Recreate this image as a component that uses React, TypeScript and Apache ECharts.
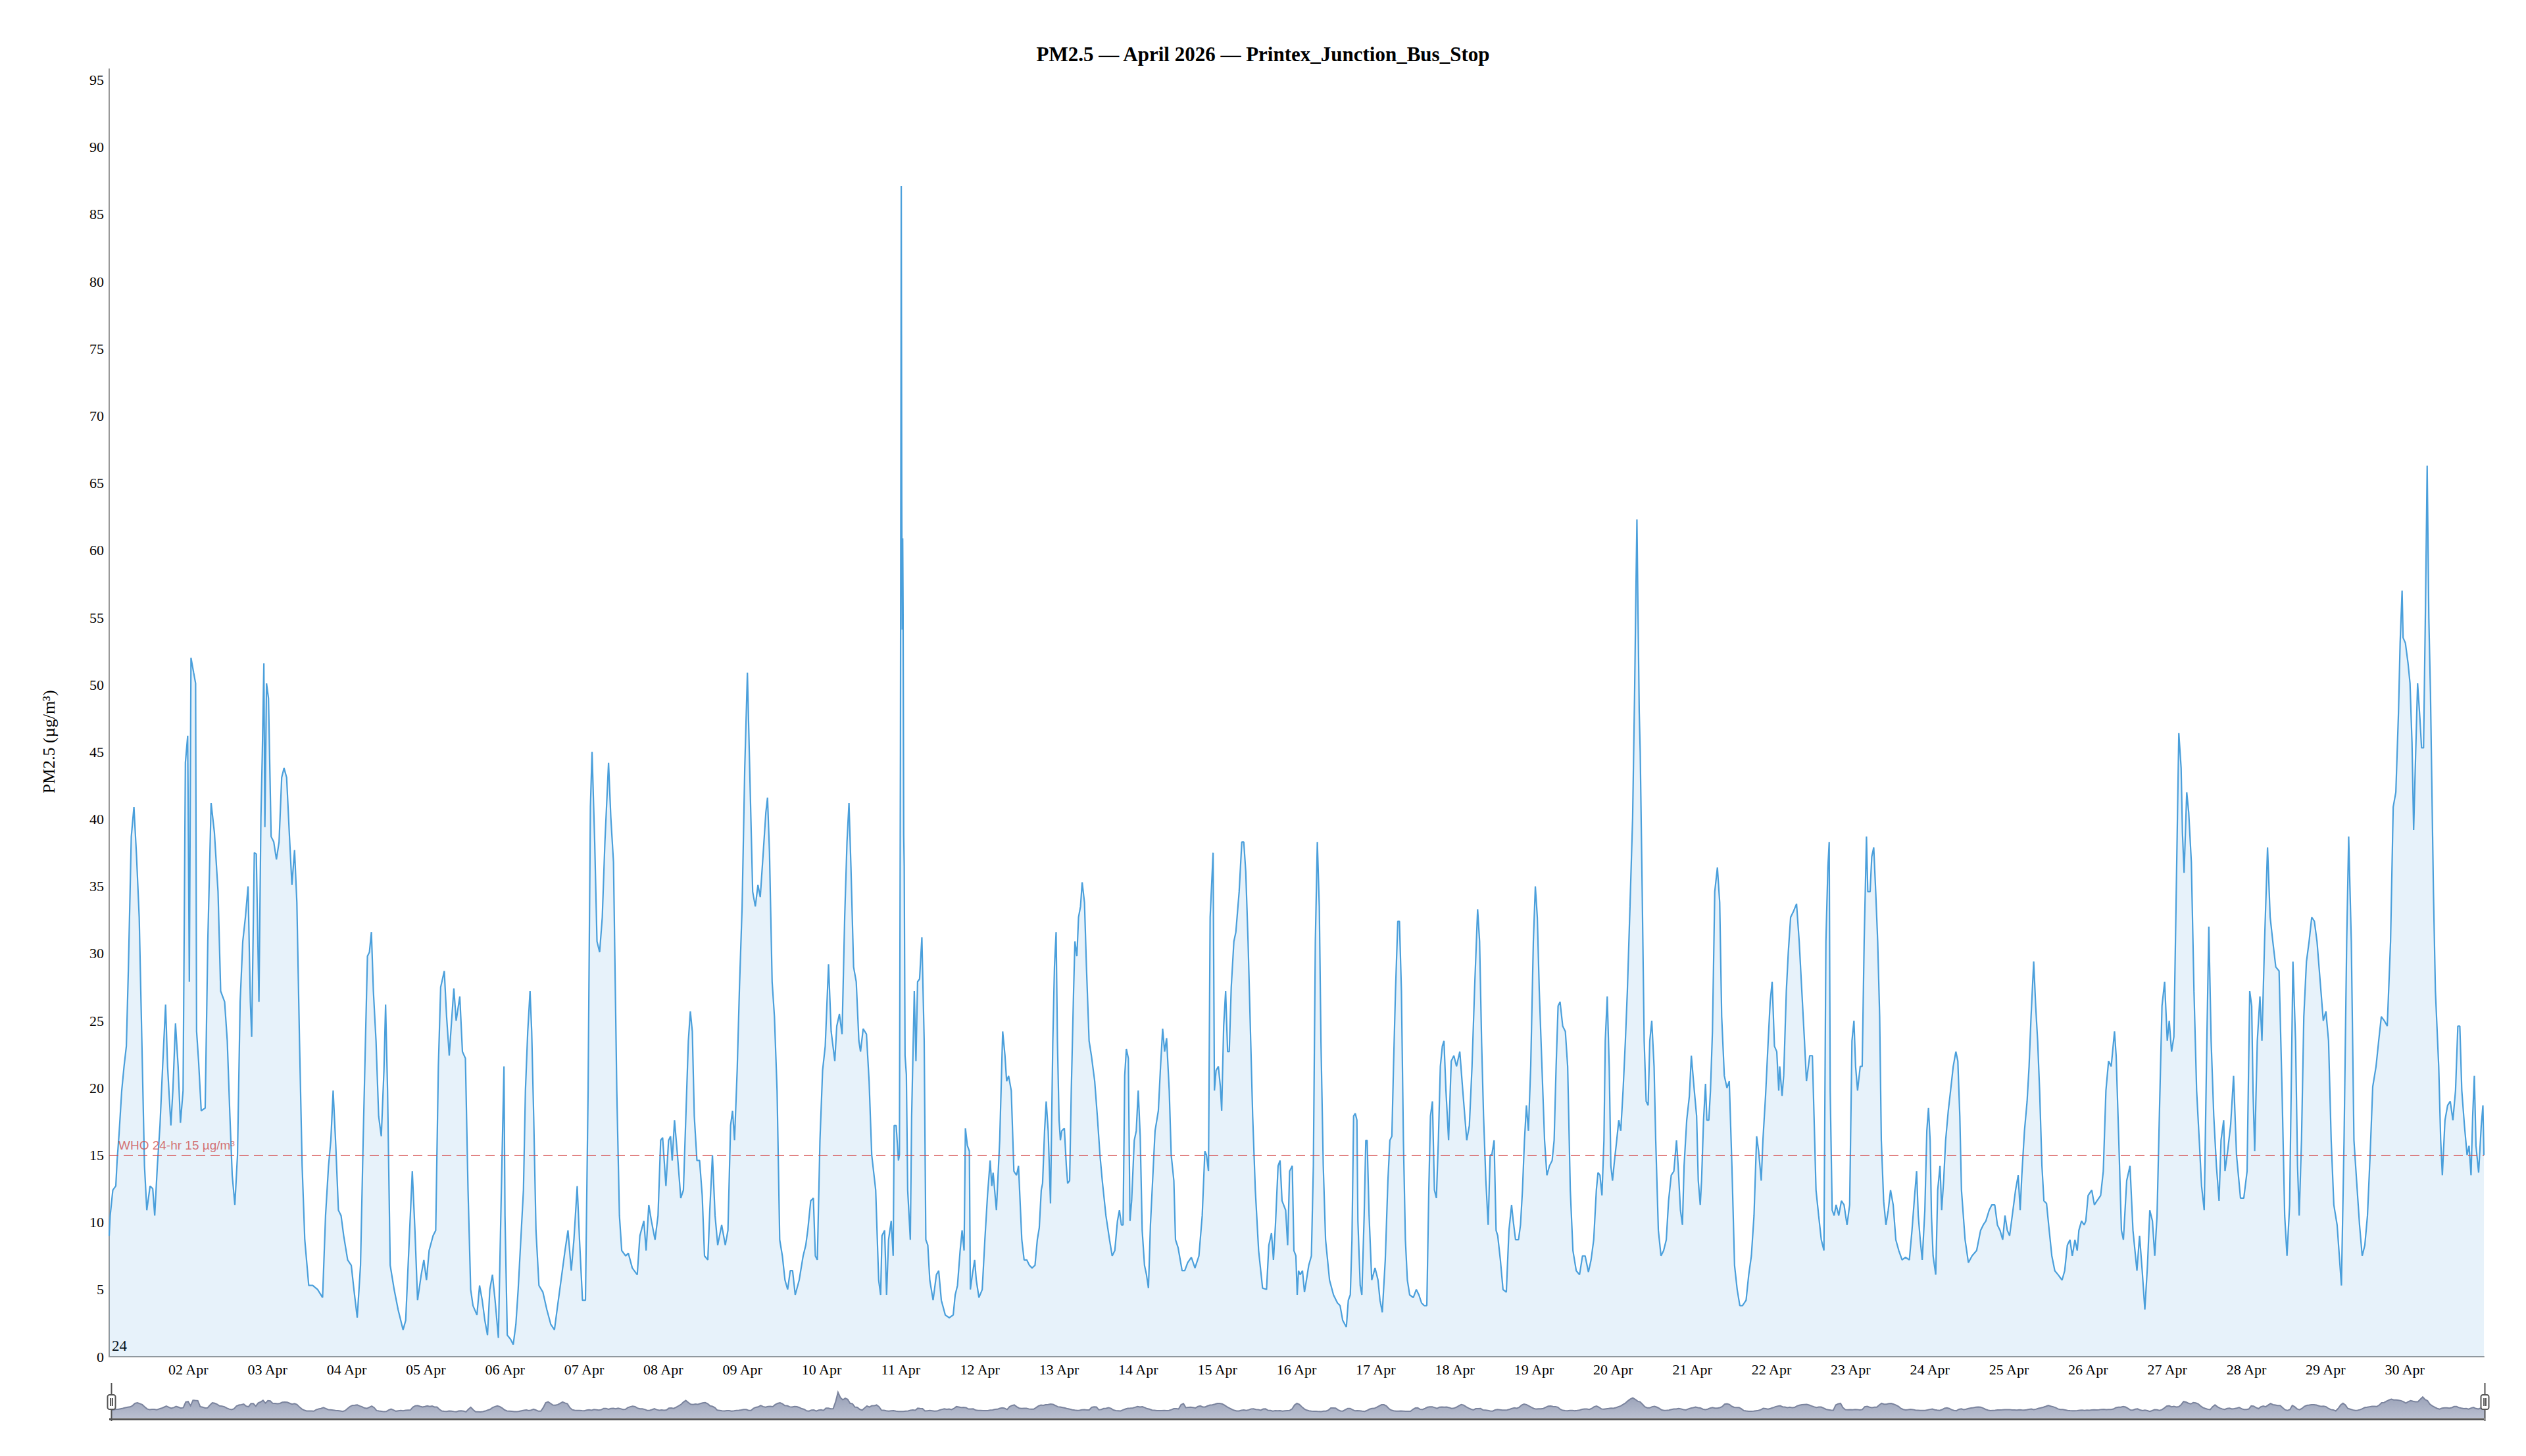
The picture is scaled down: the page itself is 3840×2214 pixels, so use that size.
import React, { useEffect, useRef } from "react";
import * as echarts from "echarts";

// ---------- DATA (hours from the start of each 5-day block, PM2.5 µg/m³) ----------
const MONTH_START = Date.UTC(2026, 3, 1);
const HOUR_MS = 3600000;
const BLOCK_HOURS = 120;

const apr01to05: [number, number][] = [
  [0, 9.0], [0.3, 10.5], [1.1, 12.4], [2.0, 12.7], [2.4, 14.6], [3.0, 16.6], [3.8, 19.8], [4.5, 21.6], [5.2, 23.1], [5.8, 28.7],
  [6.7, 38.7], [7.5, 40.9], [8.3, 37.2], [9.1, 32.7], [9.9, 23.5], [10.7, 14.2], [11.4, 10.9], [12.4, 12.7], [13.2, 12.5], [13.8, 10.5],
  [14.6, 14.2], [15.4, 17.2], [16.2, 21.6], [17.1, 26.2], [17.7, 21.6], [18.7, 17.2], [19.3, 19.8], [20.1, 24.8], [20.9, 21.6], [21.6, 17.4],
  [22.4, 19.8], [23.1, 44.2], [23.8, 46.2], [24.3, 27.9], [24.8, 52.0], [25.6, 50.9], [26.2, 50.1], [26.5, 24.2], [27.1, 22.0], [27.9, 18.3],
  [29.1, 18.5], [29.9, 30.9], [30.9, 41.2], [31.9, 39.0], [33.0, 34.6], [33.8, 27.2], [35.0, 26.4], [35.8, 23.5], [36.6, 17.9], [37.3, 13.5],
  [38.1, 11.3], [38.9, 15.0], [39.7, 26.4], [40.5, 30.9], [41.3, 32.7], [42.1, 35.0], [42.8, 26.4], [43.2, 23.8], [44.0, 37.5], [44.6, 37.4],
  [45.4, 26.4], [46.0, 40.1], [46.4, 44.6], [46.9, 51.6], [47.2, 39.4], [47.7, 50.1], [48.3, 49.0], [49.1, 38.7], [49.9, 38.3], [50.7, 37.0],
  [51.5, 38.3], [52.3, 43.1], [53.0, 43.8], [53.8, 43.1], [54.6, 39.0], [55.4, 35.1], [56.2, 37.7], [56.9, 33.8], [57.7, 23.5], [58.5, 14.2],
  [59.3, 8.7], [60.5, 5.3], [61.7, 5.3], [63.2, 5.0], [64.7, 4.4], [65.6, 10.5], [66.5, 14.2], [67.2, 16.1], [67.9, 19.8], [68.7, 15.7],
  [69.5, 10.9], [70.3, 10.5], [71.1, 9.0], [72.3, 7.2], [73.4, 6.8], [74.2, 5.0], [75.2, 2.9], [76.2, 6.8], [77.0, 16.1], [77.8, 24.6],
  [78.3, 29.8], [78.9, 30.1], [79.5, 31.6], [80.1, 27.2], [80.9, 23.5], [81.7, 17.9], [82.5, 16.4], [83.3, 21.3], [83.8, 26.2], [84.4, 19.8],
  [85.2, 6.8], [86.4, 5.0], [87.6, 3.5], [89.1, 2.0], [89.9, 2.7], [91.1, 9.4], [91.9, 13.8], [92.7, 9.4], [93.5, 4.2], [94.6, 6.1],
  [95.4, 7.2], [96.2, 5.7], [97.0, 7.9], [98.2, 9.0], [99.0, 9.4], [99.8, 21.6], [100.5, 27.5], [101.6, 28.7], [102.3, 25.3], [103.1, 22.4],
  [103.7, 24.6], [104.5, 27.4], [105.2, 25.0], [106.3, 26.8], [107.1, 22.7], [108.0, 22.2], [108.8, 12.4], [109.6, 5.0], [110.3, 3.8], [111.5, 3.1],
  [112.3, 5.3], [113.1, 4.2], [113.9, 2.7], [114.7, 1.6], [115.4, 5.0], [116.2, 6.1], [117.0, 4.2], [118.0, 1.4], [118.9, 12.4], [119.7, 21.6],
];

const apr06to10: [number, number][] = [
  [0, 10.5], [0.7, 1.6], [1.7, 1.3], [2.5, 0.9], [3.3, 2.4], [4.0, 5.0], [4.8, 8.7], [5.6, 12.4], [6.2, 19.8], [6.9, 24.2],
  [7.6, 27.2], [8.1, 24.2], [8.7, 17.9], [9.4, 9.4], [10.3, 5.3], [11.5, 4.8], [12.7, 3.5], [13.9, 2.4], [15.0, 2.0], [15.8, 3.5],
  [17.0, 5.7], [18.2, 7.9], [19.1, 9.4], [20.1, 6.4], [20.9, 8.7], [21.9, 12.7], [22.6, 8.7], [23.5, 4.2], [24.4, 4.2], [25.2, 19.8],
  [25.9, 40.9], [26.4, 45.0], [27.2, 38.3], [27.9, 30.9], [28.7, 30.1], [29.5, 32.7], [30.3, 38.3], [31.4, 44.2], [32.1, 40.1], [32.9, 36.8],
  [33.9, 19.8], [34.7, 10.5], [35.4, 7.9], [36.6, 7.5], [37.4, 7.7], [38.6, 6.6], [40.1, 6.1], [40.9, 9.0], [42.1, 10.1], [42.8, 7.9],
  [43.6, 11.3], [44.4, 10.1], [45.5, 8.7], [46.4, 10.5], [47.2, 16.1], [47.8, 16.3], [48.8, 12.7], [49.6, 16.1], [50.2, 16.4], [50.7, 14.6],
  [51.4, 17.6], [52.3, 15.0], [53.3, 11.8], [54.1, 12.4], [55.1, 19.8], [55.6, 23.5], [56.2, 25.7], [56.8, 24.2], [57.4, 17.9], [58.2, 14.6],
  [59.0, 14.6], [59.8, 12.0], [60.5, 7.5], [61.5, 7.2], [62.1, 10.9], [62.9, 15.0], [63.7, 10.5], [64.5, 8.3], [65.7, 9.8], [66.8, 8.3],
  [67.6, 9.4], [68.4, 17.2], [69.0, 18.3], [69.6, 16.1], [70.4, 21.3], [71.1, 27.5], [71.9, 33.5], [72.7, 43.8], [73.5, 50.9], [74.3, 42.7],
  [75.1, 34.6], [75.9, 33.5], [76.7, 35.1], [77.4, 34.2], [78.3, 37.5], [79.1, 40.5], [79.6, 41.6], [80.2, 37.5], [81.0, 27.9], [81.7, 25.3],
  [82.5, 19.8], [83.3, 8.7], [84.1, 7.5], [84.9, 5.7], [85.7, 5.0], [86.5, 6.4], [87.2, 6.4], [88.0, 4.6], [89.2, 5.7], [90.4, 7.5],
  [91.2, 8.3], [91.8, 9.4], [92.7, 11.6], [93.5, 11.8], [94.1, 7.5], [94.7, 7.2], [95.5, 16.1], [96.3, 21.3], [97.1, 23.1], [98.1, 29.2],
  [98.9, 24.2], [100.0, 22.0], [100.6, 24.6], [101.4, 25.5], [102.2, 24.0], [103.0, 32.7], [103.7, 38.3], [104.3, 41.2], [104.9, 36.4], [105.7, 29.0],
  [106.5, 27.9], [107.3, 23.5], [107.8, 22.7], [108.6, 24.4], [109.6, 24.0], [110.4, 20.5], [111.2, 15.0], [112.4, 12.4], [113.3, 5.7], [113.9, 4.6],
  [114.3, 9.0], [115.1, 9.4], [115.7, 4.6], [116.3, 8.7], [117.1, 10.1], [117.7, 7.5], [118.0, 17.2], [118.6, 17.2], [119.3, 14.6], [119.6, 15.0],
  [119.9, 45.0],
];

const apr11to15: [number, number][] = [
  [0.15, 87.1], [0.3, 63.7], [0.45, 54.1], [0.58, 60.9], [0.7, 55.8], [0.9, 38.8], [1.05, 36.5], [1.3, 22.4], [1.7, 21.0], [2.1, 12.4],
  [2.9, 8.7], [3.3, 17.9], [4.1, 27.2], [4.6, 22.0], [5.1, 27.9], [5.7, 28.1], [6.4, 31.2], [7.1, 23.5], [7.6, 8.7], [8.2, 8.3],
  [8.8, 5.7], [9.8, 4.2], [10.8, 6.1], [11.5, 6.4], [12.3, 4.2], [13.5, 3.1], [14.7, 2.9], [15.9, 3.1], [16.5, 4.6], [17.2, 5.3],
  [18.0, 7.9], [18.6, 9.4], [19.2, 7.9], [19.6, 17.0], [20.2, 15.7], [20.8, 15.3], [21.1, 5.0], [21.7, 6.1], [22.4, 7.2], [22.9, 5.7],
  [23.7, 4.4], [24.7, 5.0], [25.5, 8.7], [26.3, 12.0], [27.1, 14.6], [27.6, 12.7], [28.0, 13.7], [29.0, 10.9], [30.0, 16.1], [30.9, 24.2],
  [31.6, 22.4], [32.1, 20.5], [32.7, 20.9], [33.5, 19.8], [34.3, 13.8], [35.1, 13.5], [35.7, 14.2], [36.7, 8.7], [37.4, 7.2], [38.2, 7.2],
  [39.0, 6.8], [39.8, 6.6], [40.7, 6.8], [41.4, 8.7], [42.0, 9.6], [42.6, 12.4], [43.0, 12.9], [43.6, 16.8], [44.1, 19.0], [44.7, 16.8],
  [45.4, 11.4], [46.1, 23.5], [46.6, 29.0], [47.1, 31.6], [47.5, 23.5], [48.0, 17.6], [48.4, 16.1], [48.8, 16.8], [49.6, 17.0], [50.2, 14.2],
  [50.6, 12.9], [51.2, 13.1], [51.7, 19.8], [52.4, 27.2], [52.8, 30.9], [53.4, 29.8], [53.9, 32.7], [54.5, 33.5], [55.0, 35.3], [55.7, 33.8],
  [56.3, 29.0], [57.1, 23.5], [57.8, 22.4], [58.8, 20.5], [59.6, 17.9], [60.4, 15.0], [61.1, 13.1], [62.2, 10.5], [63.3, 8.7], [64.1, 7.5],
  [64.9, 7.9], [65.7, 10.1], [66.3, 10.9], [66.9, 9.8], [67.4, 9.8], [67.9, 20.9], [68.4, 22.9], [69.0, 22.2], [69.5, 10.1], [70.0, 11.6],
  [70.8, 16.1], [71.4, 16.8], [72.0, 19.8], [72.6, 16.4], [73.2, 9.4], [73.9, 6.8], [74.5, 6.1], [75.1, 5.1], [75.7, 9.8], [76.5, 13.8],
  [77.1, 16.8], [77.5, 17.4], [78.1, 18.3], [78.7, 21.3], [79.4, 24.4], [80.0, 22.7], [80.6, 23.7], [81.4, 19.8], [82.0, 15.0], [82.8, 13.1],
  [83.3, 8.7], [84.1, 8.1], [85.3, 6.4], [86.1, 6.4], [87.0, 7.0], [88.1, 7.4], [89.2, 6.6], [90.4, 7.5], [91.4, 10.5], [92.2, 15.3],
  [92.7, 15.0], [93.3, 13.8], [93.8, 32.7], [94.7, 37.5], [95.1, 19.8], [95.6, 21.3], [96.3, 21.6], [96.9, 20.1], [97.3, 18.3], [97.9, 24.6],
  [98.5, 27.2], [99.1, 22.7], [99.6, 22.7], [100.2, 27.5], [101.0, 30.9], [101.6, 31.6], [102.6, 34.6], [103.4, 38.3], [104.0, 38.3], [104.6, 36.1],
  [105.3, 30.9], [106.1, 23.5], [106.7, 17.9], [107.5, 12.4], [108.5, 7.9], [109.7, 5.1], [110.9, 5.0], [111.6, 8.3], [112.4, 9.2], [113.0, 7.2],
  [113.6, 9.8], [114.4, 14.2], [115.0, 14.6], [115.6, 11.6], [116.7, 10.9], [117.3, 8.3], [117.9, 13.8], [118.7, 14.2], [119.2, 7.9], [119.8, 7.5],
];

const apr16to20: [number, number][] = [
  [0.2, 4.6], [0.6, 6.4], [1.1, 6.1], [1.8, 6.4], [2.4, 4.8], [3.0, 5.7], [3.7, 6.8], [4.5, 7.5], [5.1, 14.2], [5.7, 30.9],
  [6.3, 38.3], [6.9, 33.5], [7.4, 23.5], [8.1, 14.2], [8.8, 8.7], [10.0, 5.7], [11.2, 4.6], [12.4, 4.0], [13.2, 3.8], [14.0, 2.7],
  [15.1, 2.2], [15.7, 4.2], [16.3, 4.6], [16.8, 8.7], [17.3, 17.9], [17.8, 18.1], [18.3, 17.6], [18.6, 10.1], [19.3, 5.3], [19.8, 4.6],
  [20.5, 10.5], [21.0, 16.1], [21.4, 16.1], [22.0, 10.5], [22.8, 5.7], [23.8, 6.6], [24.7, 5.7], [25.3, 4.2], [26.0, 3.3], [26.9, 7.2],
  [27.7, 13.1], [28.3, 16.1], [28.9, 16.4], [29.4, 21.6], [30.0, 27.2], [30.7, 32.4], [31.2, 32.4], [31.8, 27.2], [32.4, 16.1], [33.0, 8.7],
  [33.6, 5.7], [34.3, 4.6], [35.4, 4.4], [36.3, 5.0], [37.1, 4.6], [37.9, 4.0], [38.7, 3.8], [39.5, 3.8], [40.1, 12.4], [40.6, 17.9],
  [41.2, 19.0], [41.8, 12.4], [42.4, 11.8], [43.0, 16.1], [43.6, 21.6], [44.2, 23.1], [44.7, 23.5], [45.3, 19.8], [46.1, 16.1], [46.9, 22.0],
  [47.7, 22.4], [48.5, 21.6], [49.5, 22.7], [50.4, 19.8], [51.6, 16.1], [52.4, 17.2], [53.2, 21.6], [54.0, 27.5], [54.9, 33.3], [55.5, 30.9],
  [56.1, 23.5], [56.7, 17.9], [57.4, 13.1], [58.1, 9.8], [58.7, 15.0], [59.2, 15.0], [59.9, 16.1], [60.5, 9.4], [61.0, 9.0], [61.8, 7.2],
  [62.6, 5.0], [63.6, 4.8], [64.4, 9.4], [65.2, 11.3], [65.7, 10.1], [66.4, 8.7], [67.3, 8.7], [67.9, 9.8], [68.5, 12.4], [69.1, 16.1],
  [69.7, 18.7], [70.3, 16.8], [71.0, 21.6], [71.8, 30.9], [72.4, 35.0], [73.0, 32.7], [73.6, 27.2], [74.4, 21.6], [75.2, 16.1], [75.9, 13.5],
  [76.7, 14.2], [77.5, 14.6], [78.1, 16.1], [78.7, 21.6], [79.3, 26.1], [79.9, 26.4], [80.7, 24.6], [81.5, 24.2], [82.2, 21.6], [83.0, 12.4],
  [83.8, 7.9], [84.8, 6.4], [85.8, 6.1], [86.7, 7.5], [87.5, 7.5], [88.5, 6.3], [89.3, 7.2], [90.1, 8.7], [90.9, 12.4], [91.4, 13.7],
  [92.0, 13.5], [92.6, 12.0], [93.2, 16.1], [93.6, 23.5], [94.2, 26.8], [94.8, 21.6], [95.3, 14.2], [95.8, 13.1], [96.4, 14.6], [96.9, 15.7],
  [97.7, 17.6], [98.3, 16.8], [99.0, 19.8], [99.7, 23.5], [100.3, 27.2], [101.1, 33.5], [101.9, 40.1], [102.5, 49.4], [102.9, 57.0], [103.2, 62.3],
  [103.5, 56.0], [103.9, 48.0], [104.2, 45.0], [104.8, 34.6], [105.4, 23.5], [106.0, 19.0], [106.6, 18.7], [107.1, 23.5], [107.7, 25.0], [108.4, 21.6],
  [108.9, 16.1], [109.7, 9.4], [110.5, 7.5], [111.3, 7.9], [112.1, 8.7], [112.8, 11.6], [113.6, 13.5], [114.4, 13.8], [115.2, 16.1], [115.7, 14.2],
  [116.4, 10.9], [117.0, 9.8], [117.5, 14.2], [118.3, 17.6], [119.1, 19.4], [119.7, 22.4],
];

const apr21to25: [number, number][] = [
  [0.6, 19.8], [1.3, 17.9], [1.8, 13.1], [2.4, 11.3], [2.8, 13.1], [3.4, 17.6], [4.0, 20.3], [4.4, 17.6], [5.0, 17.6], [5.5, 19.8],
  [6.1, 24.2], [6.8, 34.6], [7.6, 36.4], [8.3, 33.8], [8.9, 25.3], [9.7, 20.9], [10.5, 20.0], [11.2, 20.5], [12.0, 14.2], [12.8, 6.8],
  [13.6, 5.0], [14.4, 3.8], [15.2, 3.8], [16.3, 4.2], [17.1, 6.1], [17.9, 7.5], [18.7, 10.5], [19.5, 16.4], [20.1, 15.3], [20.9, 13.1],
  [21.4, 16.1], [22.2, 19.4], [23.0, 23.5], [23.6, 26.4], [24.2, 27.9], [24.9, 23.1], [25.6, 22.7], [26.2, 19.8], [26.5, 21.6], [27.2, 19.4],
  [27.7, 20.9], [28.5, 27.2], [29.1, 30.1], [29.8, 32.7], [30.6, 33.1], [31.6, 33.7], [32.4, 30.9], [33.2, 27.2], [34.0, 23.5], [34.6, 20.5],
  [35.6, 22.4], [36.4, 22.4], [36.9, 17.9], [37.5, 12.4], [38.3, 10.5], [39.1, 8.7], [39.9, 7.9], [40.5, 30.9], [41.1, 36.4], [41.5, 38.3],
  [41.8, 19.8], [42.4, 10.9], [43.0, 10.5], [43.6, 11.3], [44.4, 10.5], [45.2, 11.6], [46.0, 11.3], [46.9, 9.8], [47.7, 11.3], [48.4, 23.5],
  [49.0, 25.0], [49.5, 21.6], [50.1, 19.8], [50.9, 21.6], [51.5, 21.6], [52.1, 30.9], [52.8, 38.7], [53.2, 34.6], [53.9, 34.6], [54.4, 37.2],
  [55.0, 37.9], [55.6, 34.6], [56.2, 30.9], [56.8, 25.3], [57.3, 16.1], [58.0, 11.6], [58.7, 9.8], [59.4, 10.9], [60.1, 12.4], [60.9, 11.3],
  [61.7, 8.7], [62.6, 7.9], [63.6, 7.2], [64.6, 7.4], [65.8, 7.2], [66.6, 9.4], [67.4, 12.0], [68.0, 13.8], [68.5, 10.5], [69.1, 8.7],
  [69.7, 7.2], [70.5, 10.9], [71.1, 16.8], [71.6, 18.5], [72.1, 16.1], [72.5, 10.5], [73.0, 7.5], [73.8, 6.1], [74.4, 12.4], [75.1, 14.2],
  [75.6, 10.9], [76.2, 13.1], [76.8, 16.1], [77.6, 18.3], [78.3, 19.8], [79.1, 21.6], [79.9, 22.7], [80.5, 22.0], [81.1, 17.9], [81.6, 12.4],
  [82.7, 8.7], [83.7, 7.0], [84.8, 7.5], [86.2, 7.9], [87.4, 9.4], [88.2, 9.8], [89.0, 10.1], [90.0, 10.9], [90.8, 11.3], [91.7, 11.3],
  [92.5, 9.8], [93.3, 9.4], [94.1, 8.7], [94.8, 10.5], [95.5, 9.4], [96.2, 9.0], [97.0, 10.5], [98.0, 12.4], [98.8, 13.5], [99.4, 10.9],
  [99.9, 13.5], [100.7, 16.8], [101.5, 19.0], [102.1, 21.6], [102.7, 25.3], [103.5, 29.4], [104.1, 26.1], [104.7, 23.5], [105.3, 19.8], [106.0, 14.2],
  [106.6, 11.6], [107.4, 11.4], [108.2, 9.4], [109.0, 7.5], [109.9, 6.4], [110.9, 6.1], [112.1, 5.7], [112.9, 6.4], [113.7, 8.3], [114.5, 8.7],
  [115.2, 7.5], [116.0, 8.7], [116.7, 7.9], [117.2, 9.4], [118.0, 10.1], [118.8, 9.8], [119.3, 10.1], [120.0, 12.0],
];

const apr26to30: [number, number][] = [
  [1.1, 12.4], [1.9, 11.3], [2.7, 11.6], [3.8, 12.0], [4.6, 13.8], [5.4, 19.8], [6.2, 22.0], [7.0, 21.6], [8.0, 24.2], [8.5, 22.4],
  [9.3, 16.1], [10.1, 9.4], [10.7, 8.7], [11.7, 13.1], [12.7, 14.2], [13.6, 9.4], [14.8, 6.4], [15.6, 9.0], [16.4, 6.4], [17.2, 3.5],
  [18.0, 6.8], [18.7, 10.9], [19.5, 10.1], [20.2, 7.5], [20.9, 10.5], [21.6, 17.9], [22.4, 26.1], [23.2, 27.9], [24.0, 23.5], [24.6, 25.0],
  [25.3, 22.7], [26.0, 23.8], [26.6, 32.7], [27.5, 46.4], [28.2, 43.8], [28.6, 39.0], [29.1, 36.0], [29.9, 42.0], [30.5, 40.5], [31.3, 36.8],
  [32.1, 27.2], [32.9, 19.8], [33.7, 16.1], [34.4, 12.7], [35.2, 10.9], [36.0, 23.5], [36.6, 32.0], [37.3, 23.5], [38.1, 17.9], [38.9, 14.2],
  [39.7, 11.6], [40.3, 16.1], [41.1, 17.6], [41.5, 13.8], [42.3, 15.3], [43.2, 17.2], [44.1, 20.9], [45.0, 15.0], [46.2, 11.8], [47.2, 11.8],
  [48.2, 13.8], [49.0, 27.2], [49.6, 26.1], [50.0, 19.8], [50.5, 15.3], [51.3, 23.5], [52.1, 26.8], [52.7, 23.5], [53.5, 30.9], [54.4, 37.9],
  [55.2, 32.7], [56.0, 30.9], [56.9, 29.0], [57.9, 28.7], [58.8, 19.8], [59.6, 10.5], [60.3, 7.5], [61.1, 11.3], [62.1, 29.4], [62.9, 23.5],
  [63.5, 14.2], [64.0, 10.5], [64.7, 16.1], [65.4, 25.3], [66.2, 29.4], [67.0, 30.9], [67.8, 32.7], [68.6, 32.4], [69.4, 30.9], [70.5, 27.5],
  [71.3, 25.0], [72.1, 25.7], [72.9, 23.5], [73.7, 16.1], [74.5, 11.3], [75.5, 9.8], [76.8, 5.3], [77.6, 16.1], [78.4, 30.9], [79.0, 38.7],
  [79.8, 30.9], [80.6, 16.1], [81.4, 13.1], [82.3, 9.8], [83.1, 7.5], [83.9, 8.3], [84.7, 10.5], [85.5, 15.0], [86.3, 20.1], [87.3, 21.6],
  [88.1, 23.5], [88.9, 25.3], [89.8, 25.0], [90.7, 24.6], [91.7, 30.9], [92.5, 40.9], [93.3, 42.0], [94.1, 47.9], [94.6, 53.1], [95.2, 57.0],
  [95.5, 53.5], [96.2, 53.1], [97.0, 51.6], [97.6, 50.1], [98.2, 45.7], [98.7, 39.2], [99.4, 45.7], [99.9, 50.1], [100.6, 47.5], [101.1, 45.3],
  [101.7, 45.3], [102.3, 56.0], [102.8, 66.3], [103.3, 55.0], [103.8, 49.4], [104.7, 34.6], [105.3, 27.2], [106.3, 21.6], [106.9, 16.1], [107.4, 13.5],
  [108.2, 17.6], [109.0, 18.7], [109.8, 19.0], [110.6, 17.6], [111.4, 19.8], [112.1, 24.6], [112.7, 24.6], [113.3, 19.8], [114.1, 17.2], [114.9, 15.0],
  [115.5, 15.7], [116.1, 13.5], [116.6, 17.9], [117.1, 20.9], [117.6, 15.7], [118.4, 13.7], [119.2, 17.2], [119.7, 18.7], [120.0, 15.0],
];

const BLOCKS = [apr01to05, apr06to10, apr11to15, apr16to20, apr21to25, apr26to30];

const WHO_LIMIT = 15;
const WHO_LABEL = "WHO 24-hr 15 µg/m³";
const TITLE = "PM2.5 — April 2026 — Printex_Junction_Bus_Stop";
const Y_NAME = "PM2.5 (µg/m³)";
const MONTH_NAMES = ["Jan", "Feb", "Mar", "Apr", "May", "Jun", "Jul", "Aug", "Sep", "Oct", "Nov", "Dec"];
const CORNER_TEXT = "24";

const DAY_MS = 86400000;
const X_MIN = MONTH_START;
const X_MAX = Date.UTC(2026, 4, 1);

function buildSeriesData(): [number, number][] {
  const out: [number, number][] = [];
  BLOCKS.forEach((block, i) => {
    block.forEach(([h, v]) => {
      out.push([MONTH_START + (i * BLOCK_HOURS + h) * HOUR_MS, v]);
    });
  });
  return out;
}

const SERIF = "Liberation Serif, Times New Roman, serif";
const SANS = "Liberation Sans, Arial, sans-serif";

const HANDLE_ICON =
  "path://M6,0V18M6,40V58M3,18h6a3,3,0,0,1,3,3v16a3,3,0,0,1,-3,3h-6a3,3,0,0,1,-3,-3v-16a3,3,0,0,1,3,-3ZM4.6,23V35M7.4,23V35";

export default function App() {
  const ref = useRef<HTMLDivElement>(null);

  useEffect(() => {
    document.body.style.margin = "0";
    if (!ref.current) return;
    const chart = echarts.init(ref.current, null, { renderer: "svg" });
    const data = buildSeriesData();

    const GRID_LEFT = 166;
    const GRID_RIGHT = 64;
    const GRID_TOP = 105;
    const GRID_BOTTOM = 151;
    const W = 3840;

    const shadowFill = () =>
      new echarts.graphic.LinearGradient(0, 0, 0, 1, [
        { offset: 0, color: "#b9bfd0" },
        { offset: 1, color: "#959db4" },
      ]);

    const option: any = {
      animation: false,
      backgroundColor: "#ffffff",
      textStyle: { fontFamily: SERIF },
      title: {
        text: TITLE,
        left: "center",
        top: 62,
        textStyle: { fontFamily: SERIF, fontSize: 31, fontWeight: "bold", color: "#000" },
      },
      grid: {
        left: GRID_LEFT,
        right: GRID_RIGHT,
        top: GRID_TOP,
        bottom: GRID_BOTTOM,
        containLabel: false,
        outerBoundsMode: "none",
      },
      xAxis: {
        type: "value",
        min: X_MIN,
        max: X_MAX,
        interval: DAY_MS,
        axisLine: { show: true, lineStyle: { color: "#999", width: 2 } },
        axisTick: { show: false },
        splitLine: { show: false },
        axisLabel: {
          showMinLabel: false,
          showMaxLabel: false,
          fontFamily: SERIF,
          fontSize: 22,
          color: "#000",
          margin: 8,
          formatter: (v: number) => {
            const d = new Date(v);
            return String(d.getUTCDate()).padStart(2, "0") + " " + MONTH_NAMES[d.getUTCMonth()];
          },
        },
      },
      yAxis: {
        type: "value",
        min: 0,
        max: (e: any) => Math.round(e.max * 1.1 * 100) / 100,
        interval: 5,
        name: Y_NAME,
        nameLocation: "middle",
        nameGap: 79,
        nameTextStyle: { fontFamily: SERIF, fontSize: 26, color: "#000", padding: [0, 88, 0, 0] },
        axisLine: { show: true, lineStyle: { color: "#999", width: 2 } },
        axisTick: { show: false },
        splitLine: { show: false },
        axisLabel: { showMaxLabel: false, fontFamily: SERIF, fontSize: 22, color: "#000", margin: 8 },
      },
      dataZoom: [
        {
          type: "slider",
          xAxisIndex: 0,
          start: 0,
          end: 100,
          left: GRID_LEFT,
          right: GRID_RIGHT,
          top: 2108,
          height: 48,
          backgroundColor: "rgba(0,0,0,0)",
          borderColor: "rgba(0,0,0,0)",
          fillerColor: "rgba(0,0,0,0)",
          showDetail: false,
          showDataShadow: true,
          brushSelect: false,
          moveHandleSize: 0,
          moveHandleStyle: { opacity: 0 },
          handleIcon: HANDLE_ICON,
          handleSize: 58,
          handleStyle: { color: "#ffffff", borderColor: "#555", borderWidth: 2 },
          emphasis: { handleStyle: { color: "#ffffff", borderColor: "#555", borderWidth: 2 } },
          dataBackground: {
            lineStyle: { color: "#7a839d", width: 2, opacity: 1 },
            areaStyle: { opacity: 1, color: shadowFill() },
          },
          selectedDataBackground: {
            lineStyle: { color: "#7a839d", width: 2, opacity: 1 },
            areaStyle: { opacity: 1, color: shadowFill() },
          },
        },
      ],
      graphic: [
        {
          type: "line",
          z: 100,
          shape: { x1: GRID_LEFT, y1: 2158, x2: W - GRID_RIGHT, y2: 2158 },
          style: { stroke: "#555", lineWidth: 3 },
        },
        {
          type: "group",
          z: 100,
          left: GRID_LEFT + 1,
          top: 2031,
          children: [
            { type: "rect", shape: { x: 0, y: 0, width: 42, height: 30 }, style: { fill: "#ffffff" } },
            {
              type: "text",
              x: 3,
              y: 15,
              style: { text: CORNER_TEXT, fontFamily: SERIF, fontSize: 23, fill: "#000", verticalAlign: "middle" },
            },
          ],
        },
      ],
      series: [
        {
          type: "line",
          name: "PM2.5",
          data,
          showSymbol: false,
          symbol: "none",
          lineStyle: { color: "#4a9fdb", width: 2.2 },
          itemStyle: { color: "#4a9fdb" },
          areaStyle: { color: "rgba(74,160,220,0.19)" },
          markLine: {
            silent: true,
            symbol: "none",
            data: [{ yAxis: WHO_LIMIT }],
            lineStyle: { color: "rgba(214,80,80,0.7)", type: [14, 8], width: 2 },
            label: {
              show: true,
              position: "insideStartTop",
              distance: [14, 5],
              formatter: WHO_LABEL,
              fontFamily: SANS,
              fontSize: 19,
              color: "rgba(204,68,68,0.75)",
            },
          },
        },
      ],
    };

    chart.setOption(option);
    return () => {
      chart.dispose();
    };
  }, []);

  return <div ref={ref} style={{ width: 3840, height: 2214 }} />;
}
